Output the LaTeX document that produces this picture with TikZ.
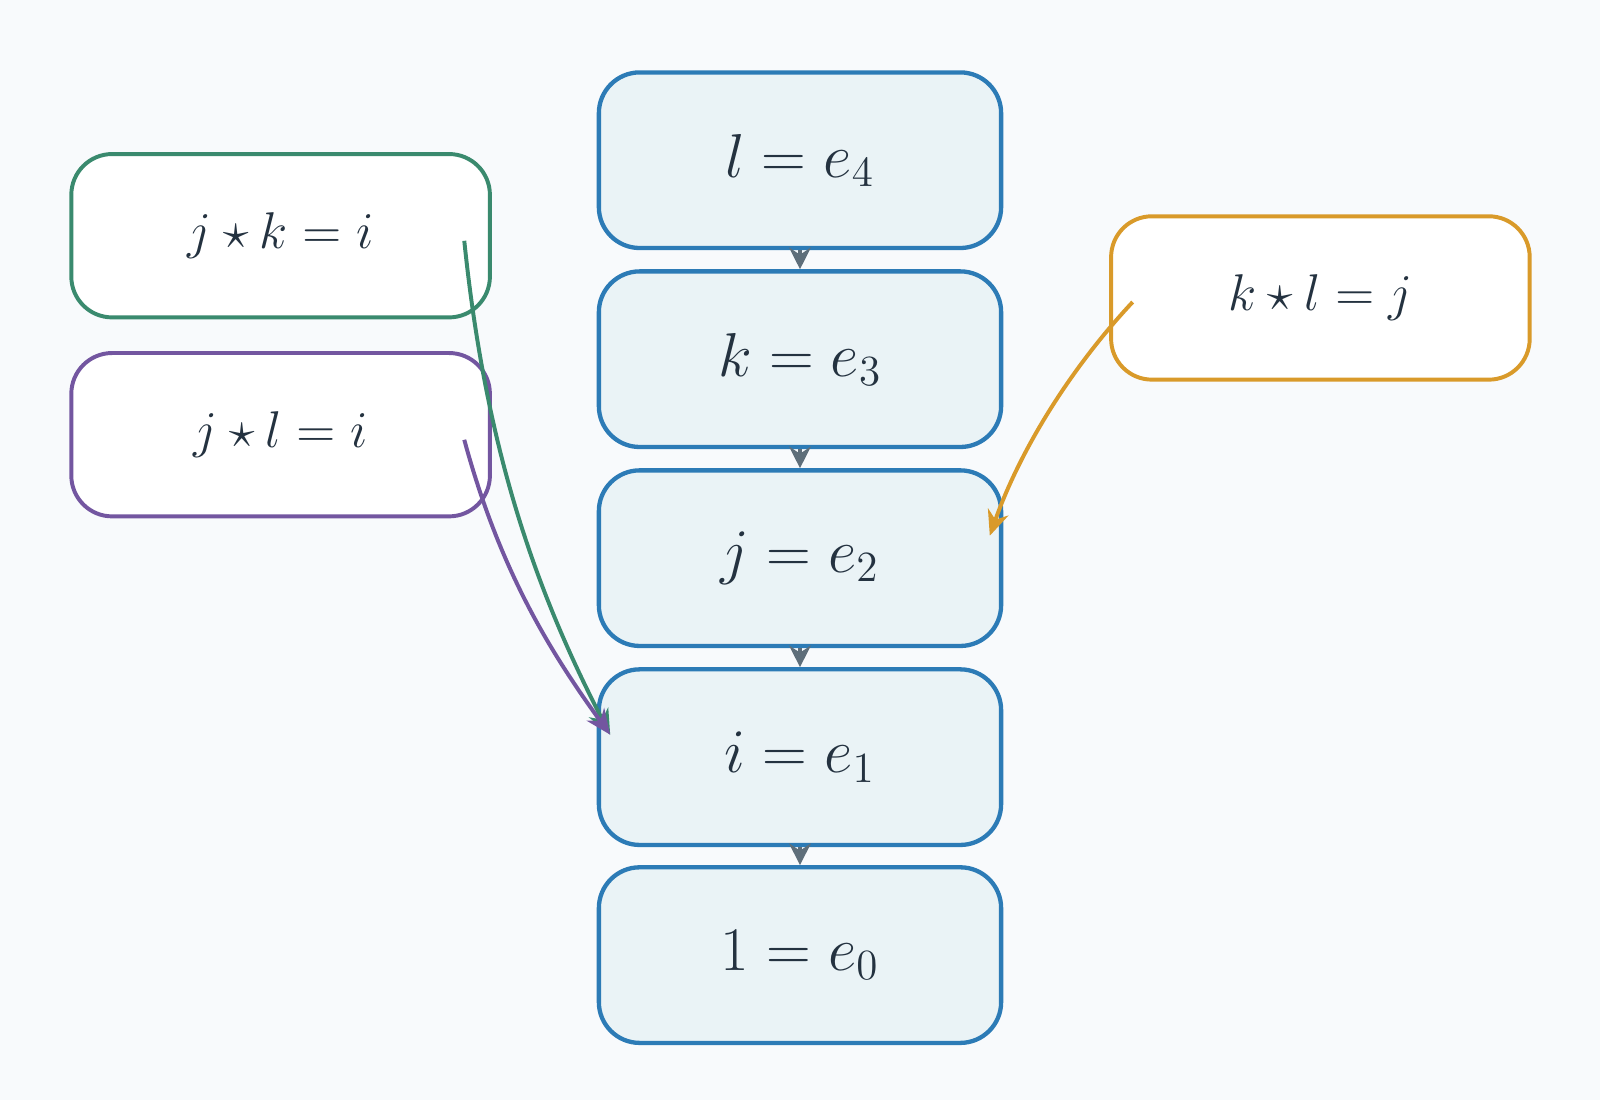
\documentclass[tikz,border=0pt]{standalone}
\usepackage{amsmath}
\usepackage{xcolor}
\usetikzlibrary{arrows.meta}
\definecolor{bgcol}{HTML}{F8FAFC}
\definecolor{boxblue}{HTML}{2C7BB6}
\definecolor{boxfill}{HTML}{EAF3F6}
\definecolor{txtcol}{HTML}{243240}
\definecolor{arrgray}{HTML}{5E6E7A}
\definecolor{grn}{HTML}{3A8A6E}
\definecolor{prp}{HTML}{7356A0}
\definecolor{org}{HTML}{D99A2A}
\tikzset{
  basis/.style={draw=boxblue, fill=boxfill, line width=1.2pt, rounded corners=0.4cm,
    minimum width=3.94cm, minimum height=1.72cm, text=txtcol, font=\fontsize{17}{20}\selectfont},
  prod/.style={draw=#1, fill=white, line width=1.1pt, rounded corners=0.4cm,
    minimum width=4.1cm, minimum height=1.6cm, text=txtcol, font=\fontsize{15}{18}\selectfont},
  basisarrow/.style={arrgray, line width=1.2pt, -{Stealth[length=6pt,width=6pt]}},
  rel/.style={#1, line width=1.1pt, -{Stealth[length=7pt,width=6pt]}}
}
\begin{document}
\begin{tikzpicture}[x=0.01cm,y=-0.01cm]
		\fill[bgcol] (0,0) rectangle (1568,1078);
		\useasboundingbox (0,0) rectangle (1568,1078);
		
		% basis column
		\node[basis] (e4) at (784,157) {$l = e_4$};
		\node[basis] (e3) at (784,352) {$k = e_3$};
		\node[basis] (e2) at (784,547) {$j = e_2$};
		\node[basis] (e1) at (784,742) {$i = e_1$};
		\node[basis] (e0) at (784,936) {$1 = e_0$};
		
		\foreach \a/\b in {e4/e3, e3/e2, e2/e1, e1/e0}{
			\draw[basisarrow] (\a.south) -- (\b.north);
		}
		
		% products
		\node[prod=grn] (jk) at (275,231) {$j \star k = i$};
		\node[prod=prp] (jl) at (275,426) {$j \star l = i$};
		\node[prod=org] (kl) at (1294,292) {$k \star l = j$};
		
		\coordinate (jkout) at (455,236);
		\coordinate (jlout) at (455,431);
		\coordinate (klout) at (1110,296);
		\coordinate (e1in) at (598,720);
		\coordinate (e2in) at (970,525);
		
		\draw[rel=grn] (jkout) .. controls (475,430) and (520,570) .. (e1in);
		\draw[rel=prp] (jlout) .. controls (490,560) and (540,640) .. (e1in);
		\draw[rel=org] (klout) .. controls (1050,360) and (1000,440) .. (e2in);
	\end{tikzpicture}
\end{document}
